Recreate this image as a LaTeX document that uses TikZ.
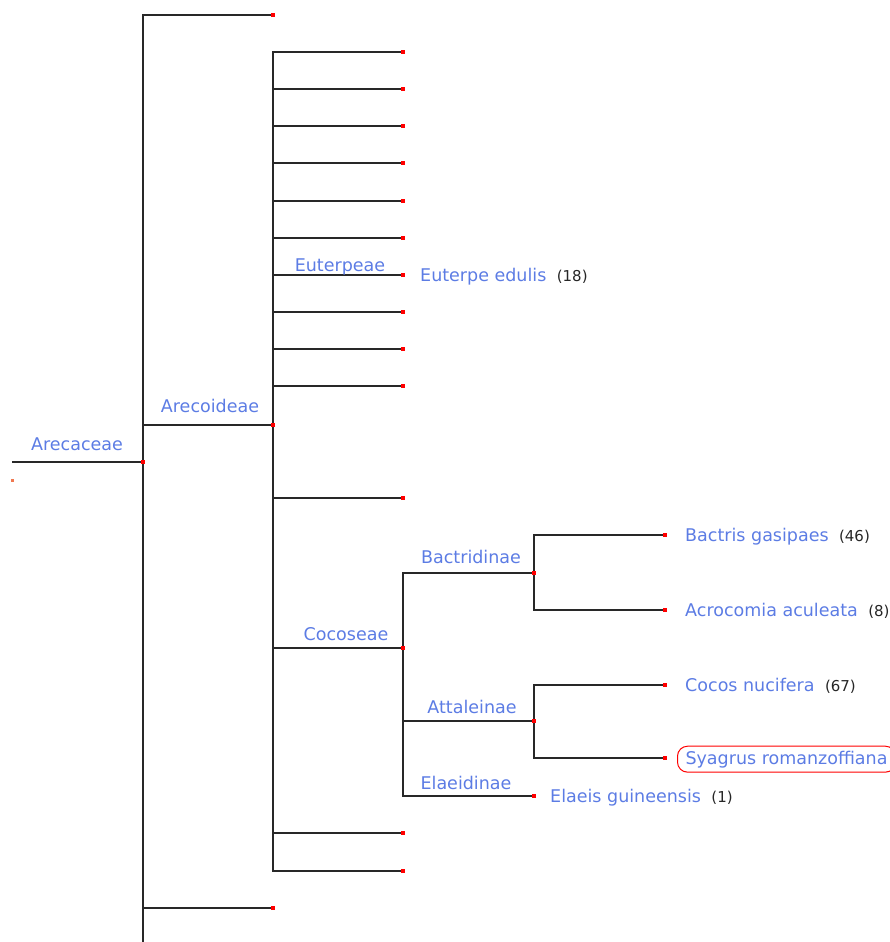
\documentclass[tikz,border=0pt]{standalone}
\usepackage{fontspec}
\setmainfont{DejaVu Sans}
\usetikzlibrary{positioning}
\definecolor{taxblue}{RGB}{92,124,228}
\definecolor{branch}{RGB}{40,40,40}
\definecolor{stubred}{RGB}{240,120,80}

\begin{document}
\begin{tikzpicture}[
  x=1pt, y=-1pt,
  edge/.style={draw=branch, line width=1.2pt},
  reddot/.style={fill=red, inner sep=0pt, minimum size=4.5pt},
  clade/.style={text=taxblue, font=\fontsize{17.5}{20}\selectfont, anchor=base, inner sep=0pt},
  taxon/.style={text=taxblue, font=\fontsize{17.5}{20}\selectfont, anchor=base west, inner sep=0pt},
  count/.style={text=black!85, font=\fontsize{15}{17}\selectfont, inner sep=0pt},
  focus/.style={draw=red, line width=1pt, rounded corners=10pt,
                inner xsep=8pt, inner ysep=4.5pt}
]
\useasboundingbox (0,0) rectangle (889,942);

% ---------- branch points ----------
\coordinate (base) at (12,462);
\coordinate (arecaceae) at (143,462);
\coordinate (tail) at (143,942);
\coordinate (top) at (273,15);
\coordinate (arecoideae) at (273,425);
\coordinate (low) at (273,908);
\coordinate (euterpe) at (403,275);
\coordinate (cocoseae) at (403,648);
\coordinate (bactridinae) at (534,573);
\coordinate (attaleinae) at (534,721);
\coordinate (elaeis) at (534,796);
\coordinate (bactris) at (665,535);
\coordinate (acrocomia) at (665,610);
\coordinate (cocos) at (665,685);
\coordinate (syagrus) at (665,758);

% ---------- edges ----------
\draw[edge] (base) -- (arecaceae);
\draw[edge] (arecaceae) -- (tail);
\foreach \kid in {top,arecoideae,low}
  \draw[edge] (arecaceae) |- (\kid);
\foreach \y [count=\i] in {52,89,126,163,201,238,312,349,386,498,833,871} {
  \coordinate (e\i) at (403,\y);
  \draw[edge] (arecoideae) |- (e\i);
}
\draw[edge] (arecoideae) |- (euterpe);
\draw[edge] (arecoideae) |- (cocoseae);
\foreach \kid in {bactridinae,attaleinae,elaeis}
  \draw[edge] (cocoseae) |- (\kid);
\draw[edge] (bactridinae) |- (bactris);
\draw[edge] (bactridinae) |- (acrocomia);
\draw[edge] (attaleinae) |- (cocos);
\draw[edge] (attaleinae) |- (syagrus);

% ---------- dots ----------
\foreach \p in {arecaceae,top,arecoideae,low,euterpe,cocoseae,bactridinae,
                attaleinae,elaeis,bactris,acrocomia,cocos,syagrus,
                e1,e2,e3,e4,e5,e6,e7,e8,e9,e10,e11,e12}
  \node[reddot] at (\p) {};
\node[fill=stubred, inner sep=0pt, minimum size=3pt] (stub) at (12,480) {};

% ---------- clade labels ----------
\node[clade] (lArecaceae) at (77,450) {Arecaceae};
\node[clade] (lArecoideae) at (210,412) {Arecoideae};
\node[clade] (lEuterpeae) at (340,271) {Euterpeae};
\node[clade] (lCocoseae) at (346,640) {Cocoseae};
\node[clade] (lBactridinae) at (471,563) {Bactridinae};
\node[clade] (lAttaleinae) at (472,713) {Attaleinae};
\node[clade] (lElaeidinae) at (466,789) {Elaeidinae};

% ---------- taxa ----------
\node[taxon] (tEuterpe) at (420,281) {Euterpe edulis};
\node[taxon] (tBactris) at (685,541) {Bactris gasipaes};
\node[taxon] (tAcrocomia) at (685,616) {Acrocomia aculeata};
\node[taxon] (tCocos) at (685,691) {Cocos nucifera};
\node[taxon, focus] (tSyagrus) at (677,764) {Syagrus romanzoffiana};
\node[taxon] (tElaeis) at (550,802) {Elaeis guineensis};

\node[count, right=10pt of tEuterpe.base east, anchor=base west] {(18)};
\node[count, right=10pt of tBactris.base east, anchor=base west] {(46)};
\node[count, right=10pt of tAcrocomia.base east, anchor=base west] {(8)};
\node[count, right=10pt of tCocos.base east, anchor=base west] {(67)};
\node[count, right=10pt of tElaeis.base east, anchor=base west] {(1)};
\end{tikzpicture}
\end{document}
